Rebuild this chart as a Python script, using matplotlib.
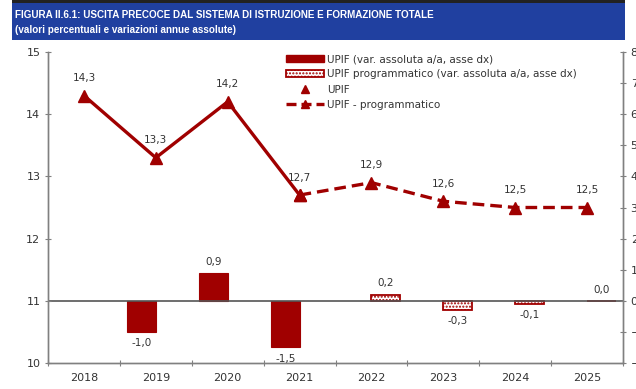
import numpy as np
import matplotlib.pyplot as plt
from matplotlib.patches import Rectangle, Patch
from matplotlib.lines import Line2D

plt.rcParams['font.family'] = 'DejaVu Sans'
plt.rcParams['hatch.linewidth'] = 1.0

anni = ['2018', '2019', '2020', '2021', '2022', '2023', '2024', '2025']

# livelli UPIF (asse sx)
upif = [14.3, 13.3, 14.2, 12.7]                 # 2018-2021
upif_prog = [12.7, 12.9, 12.6, 12.5, 12.5]      # 2021-2025

# variazioni assolute a/a (asse dx)
var_upif = [-1.0, 0.9, -1.5]                    # 2019-2021
var_prog = [0.2, -0.3, -0.1, 0.0]               # 2022-2025

rosso = '#a00000'
grigio = '#808080'
testo = '#333333'

x = np.arange(len(anni))
x_upif = x[:4]
x_prog = x[3:]
x_var_upif = x[1:4]
x_var_prog = x[4:]

fig = plt.figure(figsize=(6.36, 3.89), dpi=100)

# fascia del titolo
fig.patches.append(Rectangle((12 / 636, 1 - 40 / 389), 613 / 636, 37 / 389,
                             transform=fig.transFigure, facecolor='#2040a0',
                             edgecolor='none'))
fig.patches.append(Rectangle((12 / 636, 1 - 3 / 389), 613 / 636, 3 / 389,
                             transform=fig.transFigure, facecolor='#222222',
                             edgecolor='none'))
fig.text(15 / 636, 1 - 15 / 389, 'FIGURA II.6.1: USCITA PRECOCE DAL SISTEMA DI ISTRUZIONE E FORMAZIONE TOTALE',
         color='white', fontsize=7.1, fontweight='bold', family='Liberation Sans', va='center')
fig.text(15 / 636, 1 - 30 / 389, '(valori percentuali e variazioni annue assolute)',
         color='white', fontsize=7.1, fontweight='bold', family='Liberation Sans', va='center')

ax = fig.add_axes([48 / 636, 1 - 363 / 389, 575 / 636, 311 / 389])
ax2 = ax.twinx()

# barre sull'asse destro
w = 0.4
ax.bar(x_var_upif - 0.2, var_upif, width=w, color=rosso, edgecolor=rosso, linewidth=0.8)
ax.bar(x_var_prog + 0.2, var_prog, width=w, color='white', edgecolor=rosso,
       hatch='.....', linewidth=1.3)


def etichetta(xi, v):
    off = 0.2 if v >= 0 else -0.2
    ax.text(xi, v + off, f'{v:.1f}'.replace('.', ','), ha='center',
            va='bottom' if v >= 0 else 'top', fontsize=7.5, color=testo)


for xi, v in zip(x_var_upif - 0.2, var_upif):
    etichetta(xi, v)
for xi, v in zip(x_var_prog + 0.2, var_prog):
    etichetta(xi, v)

ax.axhline(0, color='#555555', linewidth=1.2, zorder=1)
ax.set_ylim(-2, 8)
ax.set_yticks(range(-2, 9))
ax.yaxis.tick_right()
ax.set_xlim(-0.5, len(anni) - 0.5)
ax.set_xticks(np.arange(-0.5, len(anni) + 0.5, 1))
ax.set_xticklabels([])
ax.set_xticks(x, minor=True)
ax.set_xticklabels(anni, minor=True)
ax.tick_params(axis='x', which='major', length=4, color=grigio, direction='inout')
ax.tick_params(axis='x', which='minor', length=0, labelsize=8, labelcolor=testo, pad=7)
ax.tick_params(axis='y', length=4, color=grigio, labelsize=8, labelcolor=testo, direction='inout')

# linee sull'asse sinistro
ax2.plot(x_upif, upif, color=rosso, linewidth=2.4, marker='^', markersize=8,
         zorder=5)
ax2.plot(x_prog, upif_prog, color=rosso, linewidth=2.4, linestyle=(0, (3.5, 1.8)),
         marker='^', markersize=8, zorder=5)
for xi, v in zip(x, upif + upif_prog[1:]):
    ax2.text(xi, v + 0.2, f'{v:.1f}'.replace('.', ','), ha='center', va='bottom',
             fontsize=7.5, color=testo)
ax2.set_ylim(10, 15)
ax2.set_yticks(range(10, 16))
ax2.yaxis.tick_left()
ax2.tick_params(axis='y', length=4, color=grigio, labelsize=8, labelcolor=testo, direction='inout')

for a in (ax, ax2):
    a.spines['top'].set_visible(False)
    for s in ('left', 'right', 'bottom'):
        a.spines[s].set_color(grigio)
        a.spines[s].set_linewidth(1.0)

handles = [
    Patch(facecolor=rosso, edgecolor=rosso),
    Patch(facecolor='white', edgecolor=rosso, hatch='.....', linewidth=1.3),
    Line2D([], [], color=rosso, linestyle='none', marker='^', markersize=6),
    Line2D([], [], color=rosso, linewidth=2.4, linestyle=(0, (3, 1.5)), marker='^', markersize=6),
]
labels = ['UPIF (var. assoluta a/a, asse dx)',
          'UPIF programmatico (var. assoluta a/a, asse dx)',
          'UPIF',
          'UPIF - programmatico']
fig.legend(handles, labels, loc='upper left', bbox_to_anchor=(282 / 636, 1 - 50 / 389),
           frameon=False, fontsize=7.5, handlelength=3.6, handleheight=0.6,
           labelspacing=0.5, handletextpad=0.3, borderaxespad=0, labelcolor=testo)

fig.savefig('out.png', dpi=100)
